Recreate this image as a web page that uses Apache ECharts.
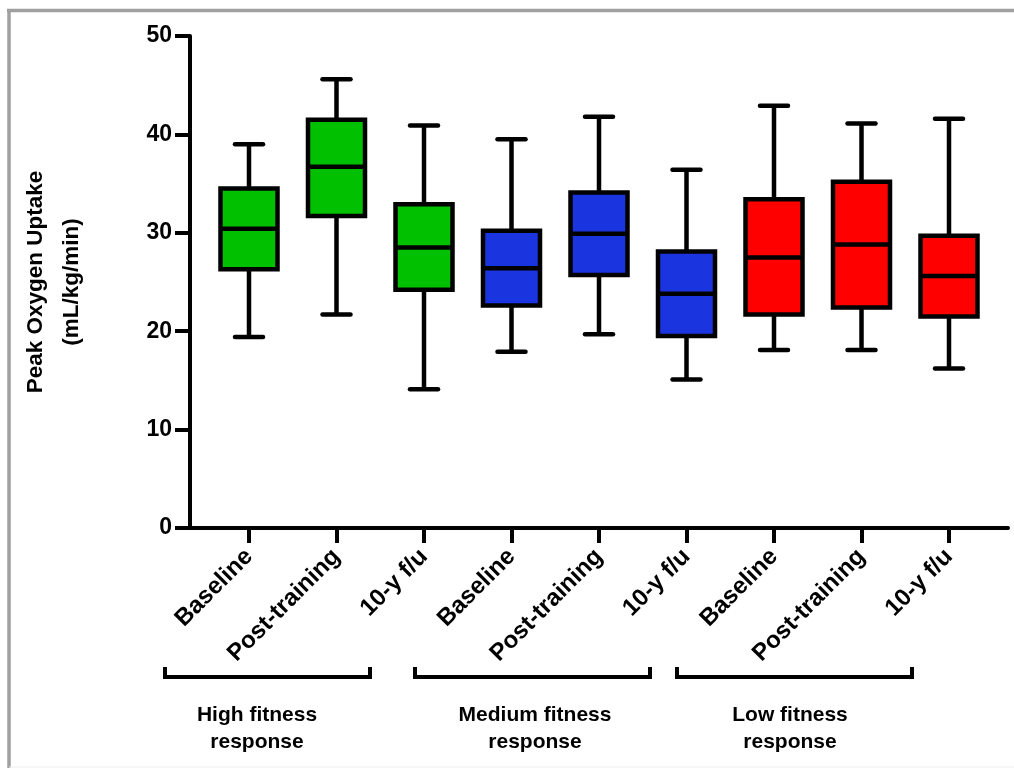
<!DOCTYPE html>
<html>
<head>
<meta charset="utf-8">
<script src="https://cdn.jsdelivr.net/npm/echarts@6/dist/echarts.min.js"></script>
<style>
html,body{margin:0;padding:0;background:#fff;}
#chart{width:1014px;height:768px;}
</style>
</head>
<body>
<div id="chart"></div>
<script>
const categories = ['Baseline','Post-training','10-y f/u','Baseline','Post-training','10-y f/u','Baseline','Post-training','10-y f/u'];
const whiskerLow  = [19.4, 21.7, 14.1, 17.9, 19.7, 15.1, 18.1, 18.1, 16.2];
const q1          = [26.3, 31.7, 24.2, 22.6, 25.7, 19.5, 21.7, 22.4, 21.5];
const median      = [30.4, 36.7, 28.5, 26.4, 29.9, 23.8, 27.5, 28.8, 25.6];
const q3          = [34.5, 41.5, 32.9, 30.2, 34.1, 28.1, 33.4, 35.2, 29.7];
const whiskerHigh = [39.0, 45.6, 40.9, 39.5, 41.8, 36.4, 42.9, 41.1, 41.6];
const boxColors   = ['#00c000','#00c000','#00c000','#1a35e0','#1a35e0','#1a35e0','#ff0000','#ff0000','#ff0000'];
const groupNames  = ['High fitness\nresponse','Medium fitness\nresponse','Low fitness\nresponse'];
const yTicks = [0,10,20,30,40,50];

const FONT = '"Liberation Sans", Arial, Helvetica, sans-serif';
const boxData = categories.map((c,i)=>[i, whiskerLow[i], q1[i], median[i], q3[i], whiskerHigh[i]]);

function renderItem(params, api){
  const i = api.value(0);
  const pLow = api.coord([i, api.value(1)]);
  const pQ1 = api.coord([i, api.value(2)]);
  const pMed = api.coord([i, api.value(3)]);
  const pQ3 = api.coord([i, api.value(4)]);
  const pHigh = api.coord([i, api.value(5)]);
  const x = pLow[0];
  const hw = 28.5, ch = 14;
  const ls = {stroke:'#000', lineWidth:4.5, lineCap:'round'};
  const lsb = {stroke:'#000', lineWidth:4.5, lineCap:'butt'};
  return {type:'group', children:[
    {type:'line', shape:{x1:x,y1:pHigh[1],x2:x,y2:pQ3[1]}, style:lsb},
    {type:'line', shape:{x1:x,y1:pQ1[1],x2:x,y2:pLow[1]}, style:lsb},
    {type:'line', shape:{x1:x-ch,y1:pHigh[1],x2:x+ch,y2:pHigh[1]}, style:ls},
    {type:'line', shape:{x1:x-ch,y1:pLow[1],x2:x+ch,y2:pLow[1]}, style:ls},
    {type:'rect', shape:{x:x-hw,y:pQ3[1],width:2*hw,height:pQ1[1]-pQ3[1]}, style:{fill:boxColors[params.dataIndex], stroke:'#000', lineWidth:4.5}},
    {type:'line', shape:{x1:x-hw,y1:pMed[1],x2:x+hw,y2:pMed[1]}, style:{stroke:'#000', lineWidth:4.5}}
  ]};
}

const chart = echarts.init(document.getElementById('chart'));
const bracketStyle = {stroke:'#000', lineWidth:4, fill:null, lineJoin:'miter'};
function bracket(x1, x2){
  return {type:'polyline', shape:{points:[[x1,667],[x1,677],[x2,677],[x2,667]]}, style:bracketStyle};
}
const groupCenters = [257, 535, 790];
chart.setOption({
  animation:false,
  backgroundColor:'#fff',
  grid:[
    {left:190, right:6, top:36, bottom:240, containLabel:false, outerBoundsMode:'none'},
    {left:205.25, width:787.5, top:36, bottom:240, containLabel:false, outerBoundsMode:'none'}
  ],
  xAxis:[
    {type:'value', gridIndex:0, min:0, max:1, axisLine:{show:true, lineStyle:{color:'#000', width:4}}, axisTick:{show:false}, axisLabel:{show:false}, splitLine:{show:false}},
    {type:'category', gridIndex:1, data:categories, boundaryGap:true,
     axisLine:{show:false},
     axisTick:{show:true, alignWithLabel:true, length:15, lineStyle:{color:'#000', width:4}},
     axisLabel:{rotate:45, margin:25, interval:0, color:'#000', fontSize:24, fontWeight:'bold', fontFamily:FONT},
     splitLine:{show:false}}
  ],
  yAxis:[
    {type:'value', gridIndex:0, min:0, max:50, interval:10,
     name:'Peak Oxygen Uptake\n(mL/kg/min)', nameLocation:'middle', nameGap:100, nameRotate:90,
     nameTextStyle:{color:'#000', fontSize:22.5, fontWeight:'bold', fontFamily:FONT, lineHeight:36, align:'center'},
     axisLine:{show:true, lineStyle:{color:'#000', width:4}},
     axisTick:{show:true, length:15, lineStyle:{color:'#000', width:4}},
     axisLabel:{color:'#000', fontSize:23, fontWeight:'bold', fontFamily:FONT, margin:18},
     splitLine:{show:false}},
    {type:'value', gridIndex:1, min:0, max:50, interval:10, show:false}
  ],
  series:[{
    type:'custom', xAxisIndex:1, yAxisIndex:1, renderItem:renderItem,
    encode:{x:0, y:[1,2,3,4,5]}, data:boxData, clip:false
  }],
  graphic:[
    {type:'line', shape:{x1:7, y1:10.5, x2:1014, y2:10.5}, style:{stroke:'#a0a0a0', lineWidth:3.5}},
    {type:'line', shape:{x1:9, y1:9, x2:9, y2:768}, style:{stroke:'#a0a0a0', lineWidth:3.5}},
    {type:'line', shape:{x1:9, y1:767, x2:1014, y2:767}, style:{stroke:'#eeeeee', lineWidth:1}},
    bracket(165, 370), bracket(415, 650), bracket(677, 912),
    ...groupNames.map((g,k)=>({type:'text', x:groupCenters[k], y:702, style:{text:g, fill:'#000', font:'bold 21px '+FONT, textAlign:'center', textVerticalAlign:'top', lineHeight:27}}))
  ]
});
</script>
</body>
</html>
